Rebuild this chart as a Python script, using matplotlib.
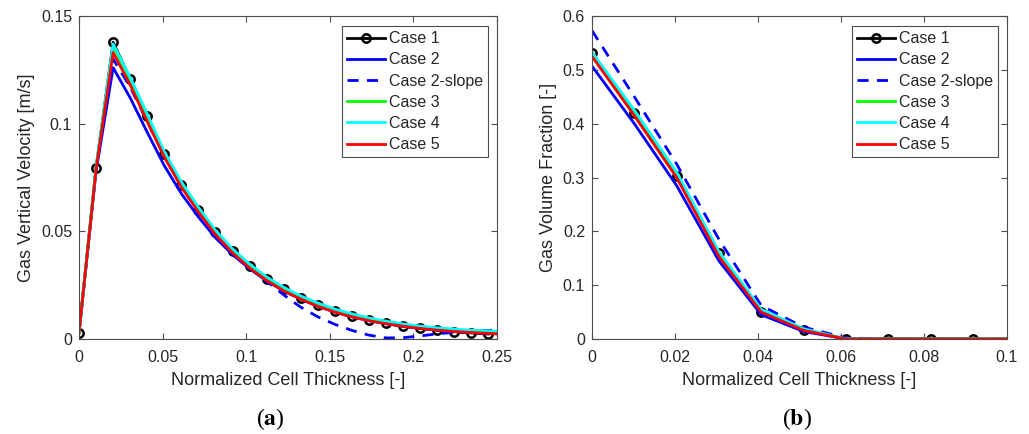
import numpy as np
import matplotlib
matplotlib.use("Agg")
import matplotlib.pyplot as plt

plt.rcParams["font.family"] = ["Liberation Sans", "DejaVu Sans"]
plt.rcParams["mathtext.fontset"] = "stix"

# ---- data: (a) gas vertical velocity ----
x_a = [0.0, 0.0102, 0.0204, 0.0306, 0.0408, 0.0510, 0.0612, 0.0714, 0.0816, 0.0918,
       0.1020, 0.1122, 0.1224, 0.1326, 0.1428, 0.1530, 0.1632, 0.1734, 0.1836, 0.1938,
       0.2040, 0.2142, 0.2244, 0.2346, 0.2448]
x_a_line = x_a + [0.25]
vel_case1 = [0.0028, 0.0794, 0.1378, 0.1208, 0.1034, 0.0858, 0.0717, 0.0600, 0.0495, 0.0410,
             0.0340, 0.0280, 0.0232, 0.0192, 0.0158, 0.0130, 0.0107, 0.0088, 0.0073, 0.0060,
             0.0050, 0.0041, 0.0034, 0.0028, 0.0023]
vel_case2 = [0.003, 0.078, 0.126, 0.112, 0.096, 0.0805, 0.0675, 0.0567, 0.0470, 0.0392,
             0.0326, 0.0270, 0.0223, 0.0185, 0.0152, 0.0125, 0.0103, 0.0085, 0.0071, 0.0059,
             0.0049, 0.0041, 0.0035, 0.0030, 0.0026, 0.0024]
vel_case2_slope = [0.003, 0.079, 0.130, 0.117, 0.101, 0.085, 0.071, 0.059, 0.0485, 0.0400,
                   0.0333, 0.0268, 0.0205, 0.0148, 0.0103, 0.0068, 0.0040, 0.0018, 0.0005, 0.0006,
                   0.0014, 0.0024, 0.0031, 0.0036, 0.0040, 0.0042]
vel_case3 = [0.003, 0.080, 0.136, 0.1205, 0.1035, 0.086, 0.0722, 0.0605, 0.0498, 0.0412,
             0.0344, 0.0284, 0.0236, 0.0196, 0.0163, 0.0135, 0.0113, 0.0094, 0.0079, 0.0066,
             0.0056, 0.0048, 0.0042, 0.0037, 0.0034, 0.0032]
vel_case4 = [0.003, 0.080, 0.137, 0.1215, 0.1045, 0.087, 0.0730, 0.0612, 0.0505, 0.0418,
             0.0348, 0.0288, 0.0240, 0.0200, 0.0167, 0.0139, 0.0117, 0.0098, 0.0083, 0.0070,
             0.0060, 0.0052, 0.0046, 0.0041, 0.0038, 0.0036]
vel_case5 = [0.003, 0.079, 0.133, 0.118, 0.101, 0.0845, 0.0705, 0.0590, 0.0485, 0.0400,
             0.0330, 0.0272, 0.0224, 0.0185, 0.0152, 0.0125, 0.0103, 0.0085, 0.0071, 0.0059,
             0.0049, 0.0041, 0.0035, 0.0030, 0.0026, 0.0024]

# ---- data: (b) gas volume fraction ----
x_b = [0.0, 0.0102, 0.0204, 0.0306, 0.0408, 0.0510, 0.0612, 0.0714, 0.0816, 0.0918]
x_b_line = x_b + [0.1]
vf_case1 = [0.532, 0.420, 0.302, 0.160, 0.051, 0.017, 0.0, 0.0, 0.0, 0.0]
vf_case2 = [0.507, 0.400, 0.285, 0.145, 0.045, 0.014, 0.0, 0.0, 0.0, 0.0, 0.0]
vf_case2_slope = [0.573, 0.450, 0.325, 0.185, 0.062, 0.022, 0.002, 0.0, 0.0, 0.0, 0.0]
vf_case3 = [0.530, 0.423, 0.307, 0.160, 0.053, 0.018, 0.0, 0.0, 0.0, 0.0, 0.0]
vf_case4 = [0.533, 0.425, 0.310, 0.162, 0.055, 0.019, 0.0, 0.0, 0.0, 0.0, 0.0]
vf_case5 = [0.525, 0.415, 0.300, 0.153, 0.050, 0.016, 0.0, 0.0, 0.0, 0.0, 0.0]

labels = ["Case 1", "Case 2", "Case 2-slope", "Case 3", "Case 4", "Case 5"]
TXT = "#262626"
AX = "#4d4d4d"


def draw_panel(ax, x, xl, c1, c2, c2s, c3, c4, c5, xlim, ylim, xticks, yticks, ylabel):
    ax.plot(x, c1, color="black", lw=2, marker="o", ms=6, mfc="none", mew=1.8, label=labels[0])
    ax.plot(xl, c2, color="#0000ff", lw=2, label=labels[1])
    ax.plot(xl, c2s, color="#0000ff", lw=2, ls=(0, (4, 3)), label=labels[2])
    ax.plot(xl, c3, color="#00ff00", lw=2, label=labels[3])
    ax.plot(xl, c4, color="#00ffff", lw=2, label=labels[4])
    ax.plot(xl, c5, color="#ff0000", lw=2, label=labels[5])
    ax.set_xlim(*xlim)
    ax.set_ylim(*ylim)
    ax.set_xticks(xticks)
    ax.set_yticks(yticks)
    ax.set_xticklabels([f"{t:g}" for t in xticks])
    ax.set_yticklabels([f"{t:g}" for t in yticks])
    ax.tick_params(direction="in", top=True, right=True, length=4, width=0.8,
                   color=AX, labelcolor=TXT, labelsize=11.5)
    ax.tick_params(axis="x", pad=8)
    ax.tick_params(axis="y", pad=5)
    for s in ax.spines.values():
        s.set_color(AX)
        s.set_linewidth(0.8)
    ax.set_xlabel("Normalized Cell Thickness [-]", fontsize=13, color=TXT, labelpad=5)
    ax.set_ylabel(ylabel, fontsize=13, color=TXT, labelpad=4)
    leg = ax.legend(loc="upper right", bbox_to_anchor=(0.978, 0.968), fontsize=11.5,
                    frameon=True, fancybox=False, edgecolor=AX, framealpha=1,
                    handlelength=2.4, handletextpad=0.25, labelspacing=0.39,
                    borderpad=0.3, borderaxespad=0)
    leg.get_frame().set_linewidth(0.8)
    for t in leg.get_texts():
        t.set_color(TXT)


fig = plt.figure(figsize=(10.29, 4.34), dpi=100)
fig.patch.set_facecolor("white")
ax1 = fig.add_axes([0.0768, 0.2189, 0.4062, 0.7442])
ax2 = fig.add_axes([0.5753, 0.2189, 0.4033, 0.7442])

draw_panel(ax1, x_a, x_a_line, vel_case1, vel_case2, vel_case2_slope, vel_case3,
           vel_case4, vel_case5, (0, 0.25), (0, 0.15),
           [0, 0.05, 0.1, 0.15, 0.2, 0.25], [0, 0.05, 0.1, 0.15],
           "Gas Vertical Velocity [m/s]")
draw_panel(ax2, x_b, x_b_line, vf_case1, vf_case2, vf_case2_slope, vf_case3,
           vf_case4, vf_case5, (0, 0.1), (0, 0.6),
           [0, 0.02, 0.04, 0.06, 0.08, 0.1], [0, 0.1, 0.2, 0.3, 0.4, 0.5, 0.6],
           "Gas Volume Fraction [-]")

fig.text(270 / 1029, 1 - 419 / 434, r"($\mathbf{a}$)", ha="center", va="center",
         fontsize=17, family="Liberation Serif", color="black")
fig.text(797 / 1029, 1 - 419 / 434, r"($\mathbf{b}$)", ha="center", va="center",
         fontsize=17, family="Liberation Serif", color="black")

fig.savefig("out.png", dpi=100, facecolor="white")
